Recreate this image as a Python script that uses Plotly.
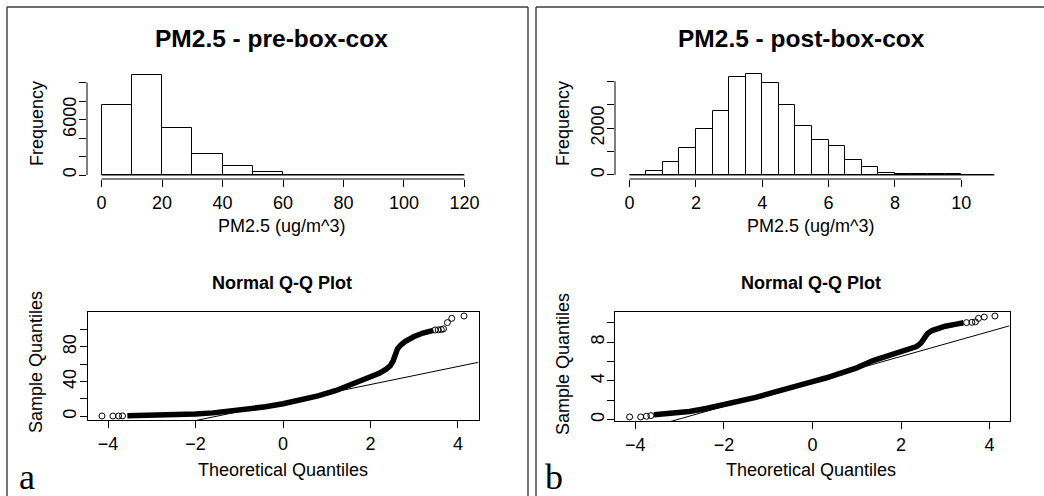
import plotly.graph_objects as go

W, H = 1044, 496
SANS = "Liberation Sans, Arial, sans-serif"
SERIF = "Liberation Serif, Times New Roman, serif"

# ---- PM2.5 histogram, raw values (10 ug/m^3 bins) ----
raw_edges = [0, 10, 20, 30, 40, 50, 60, 70, 80, 90, 100, 110, 120]
raw_counts = [7540, 10820, 5060, 2260, 980, 330, 40, 20, 20, 30, 5, 2]
raw_xticks = [0, 20, 40, 60, 80, 100, 120]
raw_yticks = [0, 2000, 4000, 6000, 8000, 10000]
raw_ylabels = ["0", "", "", "6000", "", ""]

# ---- PM2.5 histogram after Box-Cox (0.5 bins) ----
bc_edges = [0, 0.5, 1, 1.5, 2, 2.5, 3, 3.5, 4, 4.5, 5, 5.5, 6, 6.5, 7, 7.5,
            8, 8.5, 9, 9.5, 10, 10.5, 11]
bc_counts = [5, 170, 560, 1145, 1975, 2730, 4160, 4305, 3905, 2990, 2075,
             1473, 1215, 658, 343, 100, 20, 35, 35, 40, 5, 2]
bc_xticks = [0, 2, 4, 6, 8, 10]
bc_yticks = [0, 1000, 2000, 3000, 4000]
bc_ylabels = ["0", "", "2000", "", ""]

# ---- Normal Q-Q, raw values ----
# dense part of the point cloud
raw_qq_theo = [-3.56, -3.2, -2.8, -2.4, -2.0, -1.6, -1.2, -0.8, -0.4, 0.0, 0.4,
               0.8, 1.2, 1.6, 2.0, 2.2, 2.35, 2.45, 2.52, 2.57, 2.62, 2.7, 2.8,
               3.0, 3.2, 3.44]
raw_qq_samp = [0.6, 0.8, 1.1, 1.8, 2.8, 4.0, 5.8, 8.3, 11.0, 14.5, 18.5, 23.5,
               29.5, 37.5, 45.0, 49.5, 54.0, 58.0, 64.0, 72.0, 78.0, 82.5, 86.5,
               92.0, 96.0, 99.0]
# isolated points in the tails
raw_tail_theo = [-4.14, -3.89, -3.76, -3.67, 3.48, 3.55, 3.62, 3.67, 3.76, 3.86, 4.14]
raw_tail_samp = [0.4, 0.4, 0.4, 0.5, 99.5, 99.6, 100.0, 100.8, 108.0, 112.9, 115.6]
raw_quart_theo = [-0.6745, 0.6745]
raw_quart_samp = [8.9, 22.9]
raw_qq_xticks = [-4, -2, 0, 2, 4]
raw_qq_yticks = [0, 20, 40, 60, 80, 100]
raw_qq_ylabels = ["0", "", "40", "", "80", ""]

# ---- Normal Q-Q, Box-Cox values ----
bc_qq_theo = [-3.58, -3.16, -2.78, -2.4, -2.03, -1.6, -1.28, -0.9, -0.52, 0.0,
              0.3, 0.61, 1.0, 1.37, 1.7, 1.97, 2.2, 2.35, 2.45, 2.52, 2.6, 2.7,
              2.8, 3.0, 3.25, 3.41]
bc_qq_samp = [0.5, 0.63, 0.85, 1.15, 1.5, 1.95, 2.3, 2.8, 3.33, 3.93, 4.3, 4.73,
              5.35, 6.1, 6.6, 7.0, 7.3, 7.55, 7.9, 8.4, 8.9, 9.2, 9.4, 9.65,
              9.86, 10.0]
bc_tail_theo = [-4.13, -3.88, -3.75, -3.65, 3.48, 3.6, 3.68, 3.75, 3.88, 4.12]
bc_tail_samp = [0.28, 0.28, 0.35, 0.42, 10.02, 10.05, 10.1, 10.46, 10.6, 10.7]
bc_quart_theo = [-0.6745, 0.6745]
bc_quart_samp = [3.08, 4.82]
bc_qq_xticks = [-4, -2, 0, 2, 4]
bc_qq_yticks = [0, 2, 4, 6, 8, 10]
bc_qq_ylabels = ["0", "", "4", "", "8", ""]


def px(x):
    return x / W


def py(y):
    return 1 - y / H


def ext(lo, hi, f=0.04):
    d = (hi - lo) * f
    return [lo - d, hi + d]


fig = go.Figure()

# histogram bars
for edges, counts, ax in [(raw_edges, raw_counts, ""), (bc_edges, bc_counts, "2")]:
    centers = [(a + b) / 2 for a, b in zip(edges[:-1], edges[1:])]
    widths = [b - a for a, b in zip(edges[:-1], edges[1:])]
    fig.add_trace(go.Bar(
        x=centers, y=counts, width=widths,
        marker=dict(color="white", line=dict(color="black", width=1)),
        xaxis="x" + ax, yaxis="y" + ax, showlegend=False, hoverinfo="skip"))
    # bottom edge of all bins (also covers empty bins)
    fig.add_shape(type="line", xref="x" + ax, yref="y" + ax,
                  x0=edges[0], x1=edges[-1], y0=0, y1=0,
                  line=dict(color="black", width=1))

# Q-Q panels
qq_sets = [
    (raw_qq_theo, raw_qq_samp, raw_tail_theo, raw_tail_samp, raw_quart_theo, raw_quart_samp, "3"),
    (bc_qq_theo, bc_qq_samp, bc_tail_theo, bc_tail_samp, bc_quart_theo, bc_quart_samp, "4"),
]
qq_ranges = {}
for th, sm, tt, ts, qt, qs, ax in qq_sets:
    all_t = th + tt
    all_s = sm + ts
    xr = ext(min(all_t), max(all_t))
    yr = ext(min(all_s), max(all_s))
    qq_ranges[ax] = (xr, yr)
    fig.add_trace(go.Scatter(
        x=th, y=sm, mode="lines", line=dict(color="black", width=5.5),
        xaxis="x" + ax, yaxis="y" + ax, showlegend=False, hoverinfo="skip"))
    fig.add_trace(go.Scatter(
        x=tt, y=ts, mode="markers",
        marker=dict(symbol="circle-open", size=6, color="black", line=dict(width=1)),
        xaxis="x" + ax, yaxis="y" + ax, showlegend=False, hoverinfo="skip",
        cliponaxis=False))
    # line through the quartiles
    slope = (qs[1] - qs[0]) / (qt[1] - qt[0])
    icpt = qs[0] - slope * qt[0]
    fig.add_trace(go.Scatter(
        x=xr, y=[icpt + slope * v for v in xr], mode="lines",
        line=dict(color="black", width=1),
        xaxis="x" + ax, yaxis="y" + ax, showlegend=False, hoverinfo="skip"))

common = dict(showgrid=False, zeroline=False, ticks="outside", ticklen=7,
              tickwidth=1, tickcolor="black", linecolor="black", linewidth=1,
              tickfont=dict(family=SANS, size=18, color="black"), fixedrange=True)
ycommon = dict(common, tickangle=-90, ticklabelstandoff=-4)

raw_max = max(raw_counts)
bc_max = max(bc_counts)

fig.update_layout(
    width=W, height=H, margin=dict(l=0, r=0, t=0, b=0),
    paper_bgcolor="white", plot_bgcolor="white", bargap=0,
    xaxis=dict(domain=[px(87), px(479)], range=ext(raw_edges[0], raw_edges[-1]),
               tickvals=raw_xticks, showline=False, anchor="y", **common),
    yaxis=dict(domain=[py(179), py(71)], range=[-0.04 * raw_max, 1.04 * raw_max],
               tickvals=raw_yticks, ticktext=raw_ylabels,
               showline=False, anchor="x", **ycommon),
    xaxis2=dict(domain=[px(615), px(1009)], range=ext(bc_edges[0], bc_edges[-1]),
                tickvals=bc_xticks, showline=False, anchor="y2", **common),
    yaxis2=dict(domain=[py(179), py(70)], range=[-0.04 * bc_max, 1.04 * bc_max],
                tickvals=bc_yticks, ticktext=bc_ylabels,
                showline=False, anchor="x2", **ycommon),
    xaxis3=dict(domain=[px(87.5), px(478.5)], range=qq_ranges["3"][0],
                tickvals=raw_qq_xticks, showline=True, mirror=True, anchor="y3", **common),
    yaxis3=dict(domain=[py(420), py(312)], range=qq_ranges["3"][1],
                tickvals=raw_qq_yticks, ticktext=raw_qq_ylabels,
                showline=True, mirror=True, anchor="x3", **ycommon),
    xaxis4=dict(domain=[px(615), px(1009.5)], range=qq_ranges["4"][0],
                tickvals=bc_qq_xticks, showline=True, mirror=True, anchor="y4", **common),
    yaxis4=dict(domain=[py(421), py(312)], range=qq_ranges["4"][1],
                tickvals=bc_qq_yticks, ticktext=bc_qq_ylabels,
                showline=True, mirror=True, anchor="x4", **ycommon),
)

# histogram axis lines run from the first to the last tick only
for xa, ya, xt, yt, left, bottom in [("x", "y", raw_xticks, raw_yticks, 87, 179),
                                      ("x2", "y2", bc_xticks, bc_yticks, 615, 179)]:
    fig.add_shape(type="line", xref=xa, yref="paper", x0=xt[0], x1=xt[-1],
                  y0=py(bottom), y1=py(bottom), line=dict(color="black", width=1))
    fig.add_shape(type="line", xref="paper", yref=ya, x0=px(left), x1=px(left),
                  y0=yt[0], y1=yt[-1], line=dict(color="black", width=1))

# panel frames
frame = dict(color="#3c3c3c", width=1.4)
for x0, y0, x1, y1 in [(7, 7, 7, 496), (7, 7, 528, 7), (528, 7, 528, 496),
                       (536, 7, 536, 496), (536, 7, 1044, 7)]:
    fig.add_shape(type="line", xref="paper", yref="paper",
                  x0=px(x0), x1=px(x1), y0=py(y0), y1=py(y1), line=frame)


def label(text, x, y, size=18, bold=False, angle=0, family=SANS):
    fig.add_annotation(
        text=("<b>%s</b>" % text) if bold else text, x=px(x), y=py(y),
        xref="paper", yref="paper", showarrow=False, textangle=angle,
        xanchor="center", yanchor="middle",
        font=dict(family=family, size=size, color="black"))


label("PM2.5 - pre-box-cox", 271, 38, size=24.5, bold=True)
label("PM2.5 - post-box-cox", 801, 38, size=24.5, bold=True)
label("PM2.5 (ug/m^3)", 282, 226)
label("PM2.5 (ug/m^3)", 811, 226)
label("Frequency", 37, 124, angle=-90)
label("Frequency", 563, 124, angle=-90)
label("Normal Q-Q Plot", 282, 283, bold=True)
label("Normal Q-Q Plot", 811, 283, bold=True)
label("Theoretical Quantiles", 283, 470)
label("Theoretical Quantiles", 811, 470)
label("Sample Quantiles", 36, 362, angle=-90)
label("Sample Quantiles", 563, 364, angle=-90)
label("a", 27, 477, size=36, family=SERIF)
label("b", 554, 477, size=36, family=SERIF)

fig.write_html("out.html")
